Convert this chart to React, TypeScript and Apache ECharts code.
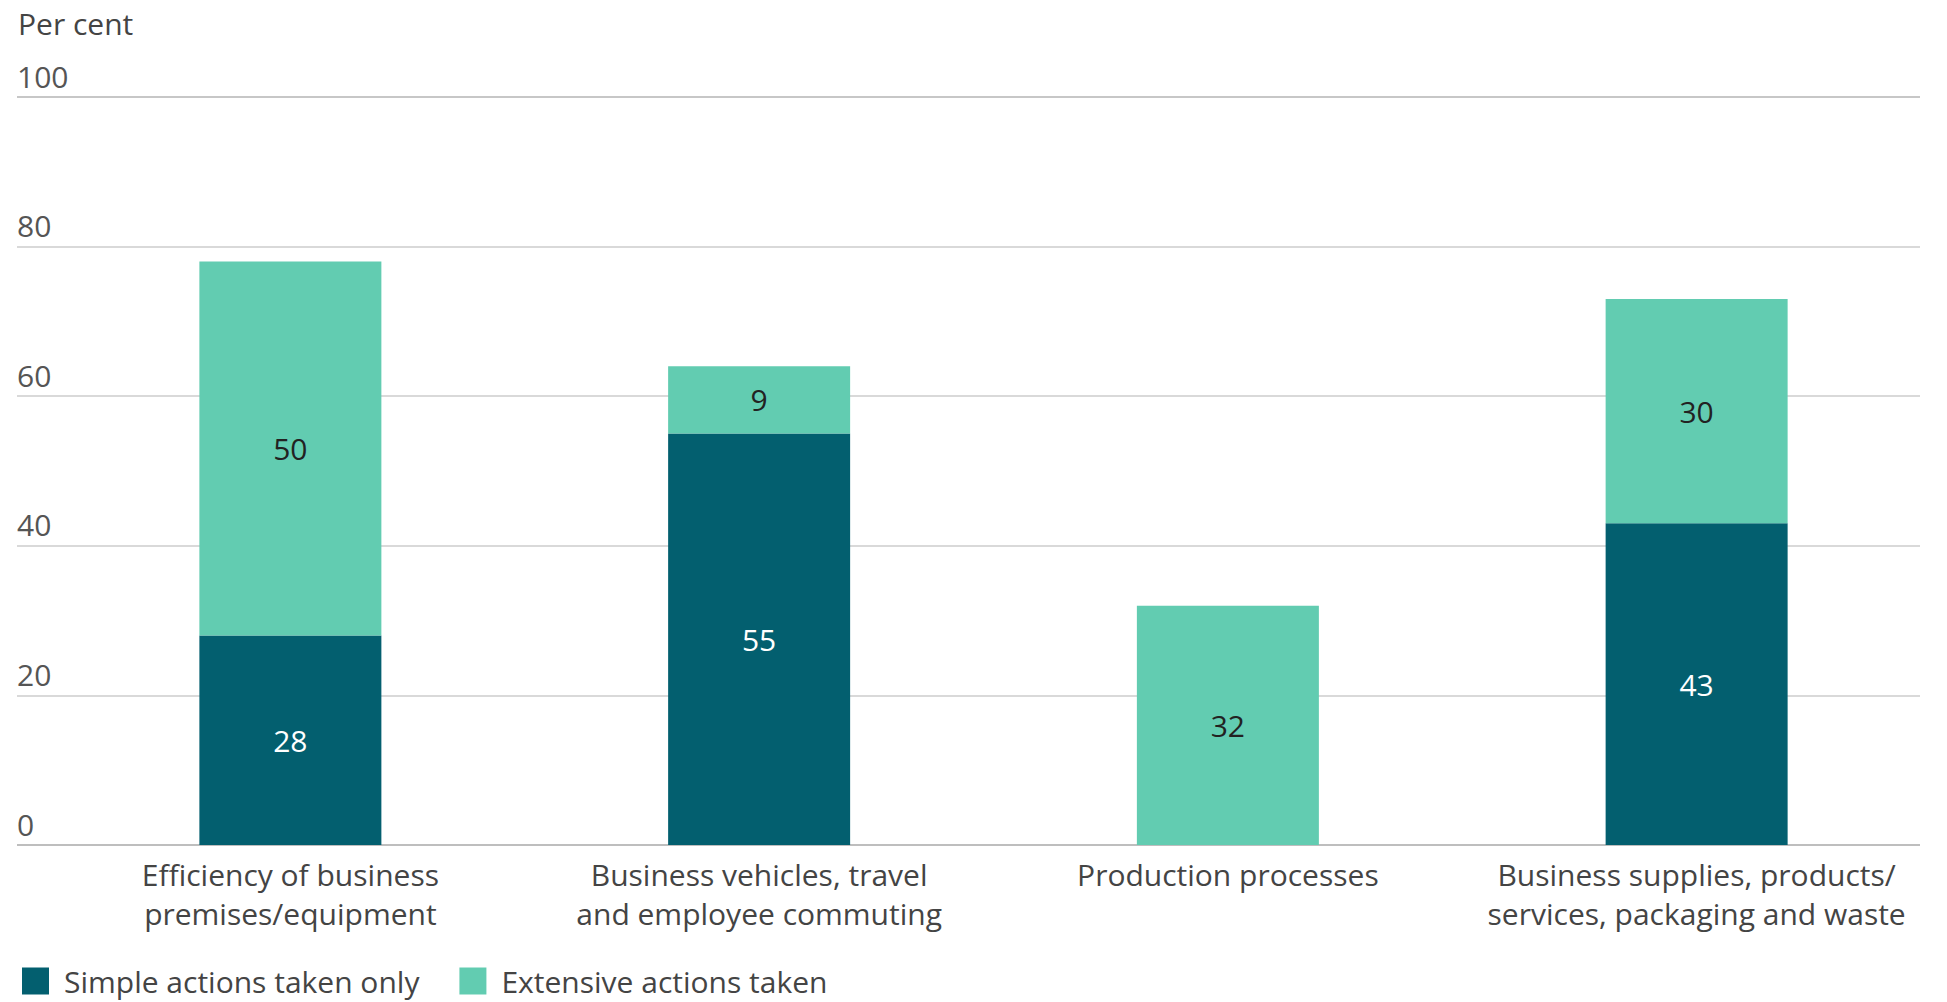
import React, { useEffect, useRef } from "react";
import * as echarts from "echarts";

const categories = [
  "Efficiency of business\npremises/equipment",
  "Business vehicles, travel\nand employee commuting",
  "Production processes",
  "Business supplies, products/\nservices, packaging and waste",
];
const simpleActions: (number | null)[] = [28, 55, null, 43];
const extensiveActions: (number | null)[] = [50, 9, 32, 30];
const seriesNames = ["Simple actions taken only", "Extensive actions taken"];

const DARK = "#035F6F";
const LIGHT = "#62CCB1";
const FONT = "'Open Sans', Roboto, sans-serif";
const FS = 30;

export default function App() {
  const ref = useRef<HTMLDivElement>(null);
  useEffect(() => {
    if (!ref.current) return;
    const chart = echarts.init(ref.current, undefined, { renderer: "svg" });
    chart.setOption({
      animation: false,
      backgroundColor: "#ffffff",
      textStyle: { fontFamily: FONT },
      title: {
        text: "Per cent",
        left: 13,
        top: 3,
        textStyle: { fontFamily: FONT, fontSize: FS, fontWeight: "normal", color: "#444" },
      },
      legend: {
        left: 17,
        top: 961,
        itemWidth: 27,
        itemHeight: 27,
        itemGap: 40,
        icon: "rect",
        data: seriesNames,
        textStyle: { fontFamily: FONT, fontSize: FS, color: "#444", lineHeight: 30, padding: [0, 0, 0, 10] },
      },
      grid: [
        { left: 17, right: 27, top: 97, bottom: 157 },
        { left: 56, right: 16, top: 97, bottom: 157 },
      ],
      xAxis: [
        { gridIndex: 0, type: "value", min: 0, max: 1, show: false },
        {
          gridIndex: 1,
          type: "category",
          data: categories,
          axisLine: { show: false },
          axisTick: { show: false },
          axisLabel: {
            fontFamily: FONT,
            fontSize: FS,
            lineHeight: 39,
            color: "#444",
            margin: 10,
            interval: 0,
          },
        },
      ],
      yAxis: [
        {
          gridIndex: 0,
          type: "value",
          min: 0,
          max: 100,
          interval: 20,
          axisLine: { show: false },
          axisTick: { show: false },
          splitLine: {
            show: true,
            lineStyle: { color: ["#a8a8a8", "#cccccc", "#cccccc", "#cccccc", "#cccccc", "#b5b5b5"], width: 1.5 },
          },
          axisLabel: {
            inside: true,
            align: "left",
            verticalAlign: "bottom",
            margin: 0,
            padding: [0, 0, 6, 0],
            fontFamily: FONT,
            fontSize: FS,
            color: "#555",
          },
        },
        { gridIndex: 1, type: "value", min: 0, max: 100, show: false },
      ],
      series: [
        {
          name: seriesNames[0],
          type: "bar",
          stack: "total",
          xAxisIndex: 1,
          yAxisIndex: 1,
          barWidth: 182,
          data: simpleActions,
          itemStyle: { color: DARK },
          label: { show: true, position: "inside", color: "#ffffff", fontSize: FS, fontFamily: FONT },
        },
        {
          name: seriesNames[1],
          type: "bar",
          stack: "total",
          xAxisIndex: 1,
          yAxisIndex: 1,
          barWidth: 182,
          data: extensiveActions,
          itemStyle: { color: LIGHT },
          label: { show: true, position: "inside", color: "#222222", fontSize: FS, fontFamily: FONT },
        },
      ],
    });
    return () => chart.dispose();
  }, []);
  return (
    <div
      ref={ref}
      style={{ position: "fixed", left: 0, top: 0, width: 1947, height: 1002 }}
    />
  );
}
